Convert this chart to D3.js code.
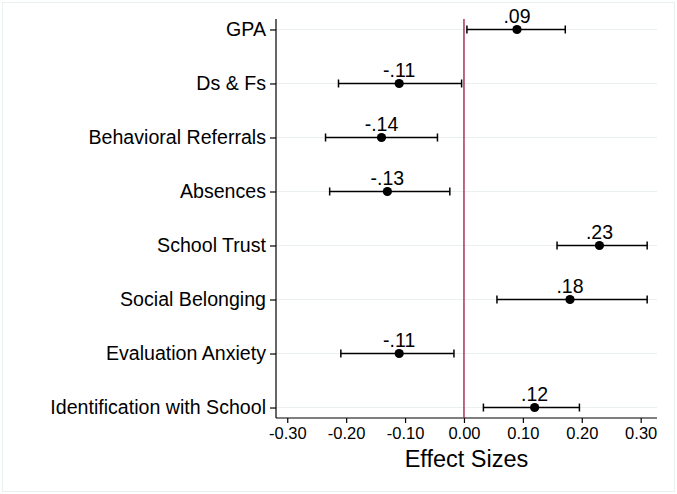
<!DOCTYPE html>
<html><head><meta charset="utf-8">
<script src="https://cdn.jsdelivr.net/npm/d3@7"></script>
<style>
html,body{margin:0;padding:0;background:#fff;}
text{font-family:Arial,"Liberation Sans",sans-serif;fill:#000;}
</style></head>
<body>
<svg id="chart" width="677" height="494"></svg>
<script>
const categories = ["GPA","Ds & Fs","Behavioral Referrals","Absences","School Trust","Social Belonging","Evaluation Anxiety","Identification with School"];
const estimates = [0.09,-0.11,-0.14,-0.13,0.23,0.18,-0.11,0.12];
const ciLow = [0.005,-0.213,-0.235,-0.228,0.158,0.056,-0.209,0.033];
const ciHigh = [0.172,-0.004,-0.045,-0.024,0.311,0.311,-0.017,0.196];
const valueLabels = [".09","-.11","-.14","-.13",".23",".18","-.11",".12"];
const xTicks = [-0.3,-0.2,-0.1,0,0.1,0.2,0.3];
const xTickLabels = ["-0.30","-0.20","-0.10","0.00","0.10","0.20","0.30"];
const xTitle = "Effect Sizes";

(function(){
const svg = d3.select("#chart");
const pLeft = 276, pRight = 657, pTop = 19, pBottom = 418;
const FF = "Arial,'Liberation Sans',sans-serif";

svg.append("rect").attr("x",2.5).attr("y",2.5).attr("width",672).attr("height",489)
  .attr("fill","#fff").attr("stroke","#e8f0f0").attr("stroke-width",1);

const x = d3.scaleLinear().domain([-0.3191,0.3277]).range([pLeft,pRight]);
const y = d3.scalePoint().domain(categories).range([pTop,pBottom]).padding(0.194);

// gridlines
svg.append("g").selectAll("line").data(categories).join("line")
  .attr("x1",pLeft).attr("x2",pRight)
  .attr("y1",d=>y(d)).attr("y2",d=>y(d))
  .attr("stroke","#eaf0f0").attr("stroke-width",1.2);

// x axis
const xAxis = svg.append("g").attr("transform",`translate(0,${pBottom})`)
  .call(d3.axisBottom(x).tickValues(xTicks).tickFormat((d,i)=>xTickLabels[i]).tickSize(5).tickSizeOuter(0).tickPadding(4));
xAxis.select(".domain").attr("stroke","#000").attr("stroke-width",1.2).attr("d",`M${pLeft},0H${pRight}`);
xAxis.selectAll(".tick line").attr("stroke","#000").attr("stroke-width",1.2);
xAxis.selectAll(".tick text").style("font-size","16.5px").style("font-family",FF).attr("fill","#000");

// y axis
const yAxis = svg.append("g").attr("transform",`translate(${pLeft},0)`)
  .call(d3.axisLeft(y).tickSize(6).tickSizeOuter(0).tickPadding(4));
yAxis.select(".domain").attr("stroke","#000").attr("stroke-width",1.2).attr("d",`M0,${pTop}V${pBottom}`);
yAxis.selectAll(".tick line").attr("stroke","#000").attr("stroke-width",1.2);
yAxis.selectAll(".tick text").style("font-size","19.6px").style("font-family",FF).attr("fill","#000");

// zero line
svg.append("line").attr("x1",x(0)).attr("x2",x(0)).attr("y1",pTop).attr("y2",pBottom)
  .attr("stroke","#a8345a").attr("stroke-width",1.5);

const g = svg.append("g");
const rows = categories.map((c,i)=>({c,est:estimates[i],lo:ciLow[i],hi:ciHigh[i],lab:valueLabels[i]}));
g.selectAll("line.ci").data(rows).join("line").attr("class","ci")
  .attr("x1",d=>x(d.lo)).attr("x2",d=>x(d.hi)).attr("y1",d=>y(d.c)).attr("y2",d=>y(d.c))
  .attr("stroke","#000").attr("stroke-width",1.5);
["lo","hi"].forEach(k=>{
  g.selectAll("line.cap"+k).data(rows).join("line").attr("class","cap"+k)
    .attr("x1",d=>x(d[k])).attr("x2",d=>x(d[k])).attr("y1",d=>y(d.c)-4).attr("y2",d=>y(d.c)+4)
    .attr("stroke","#000").attr("stroke-width",1.5);
});
g.selectAll("circle").data(rows).join("circle")
  .attr("cx",d=>x(d.est)).attr("cy",d=>y(d.c)).attr("r",4.6).attr("fill","#000");
g.selectAll("text.val").data(rows).join("text").attr("class","val")
  .attr("x",d=>x(d.est)).attr("y",d=>y(d.c)-6.3).attr("text-anchor","middle")
  .style("font-size","19.5px").text(d=>d.lab);

svg.append("text").attr("x",(pLeft+pRight)/2).attr("y",467).attr("text-anchor","middle")
  .style("font-size","23.5px").text(xTitle);
})();
</script>
</body></html>
